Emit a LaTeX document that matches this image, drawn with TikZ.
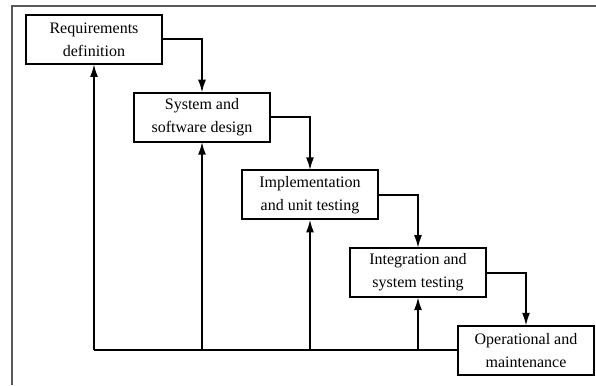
\documentclass[tikz,border=0pt]{standalone}
\usepackage{fontspec}
\setmainfont{Liberation Serif}
\usepackage{tikz}
\usetikzlibrary{positioning,arrows.meta}

\begin{document}
\begin{tikzpicture}[x=1pt,y=-1pt,line width=2pt,
    stage/.style={draw, minimum width=136pt, minimum height=49pt, align=center,
      font=\fontsize{16}{23}\selectfont, inner sep=2pt, outer sep=0pt},
    flow/.style={-{Latex[length=13pt,width=8pt]}},
    frame/.style={draw=black!65, line width=2pt}]
  \useasboundingbox (0,0) rectangle (596,385);
  \draw[frame] (12,385) -- (12,6) -- (596,6);
  \node[stage] (req) at (94,39.5) {Requirements\\definition};
  \node[stage] (sys) [below right=28.7pt and -28pt of req] {System and\\software design};
  \node[stage] (impl) [below right=28.7pt and -28pt of sys] {Implementation\\and unit testing};
  \node[stage] (integ) [below right=28.7pt and -28pt of impl] {Integration and\\system testing};
  \node[stage] (ops) [below right=28.7pt and -28pt of integ] {Operational and\\maintenance};
  % forward steps
  \draw[flow] (req.east) -| (sys.north);
  \draw[flow] (sys.east) -| (impl.north);
  \draw[flow] (impl.east) -| (integ.north);
  \draw[flow] (integ.east) -| (ops.north);
  % feedback
  \draw (ops.west) -- (ops.west -| req.south);
  \foreach \n in {req,sys,impl,integ}
    \draw[flow] (ops.west -| \n.south) -- (\n.south);
\end{tikzpicture}
\end{document}
